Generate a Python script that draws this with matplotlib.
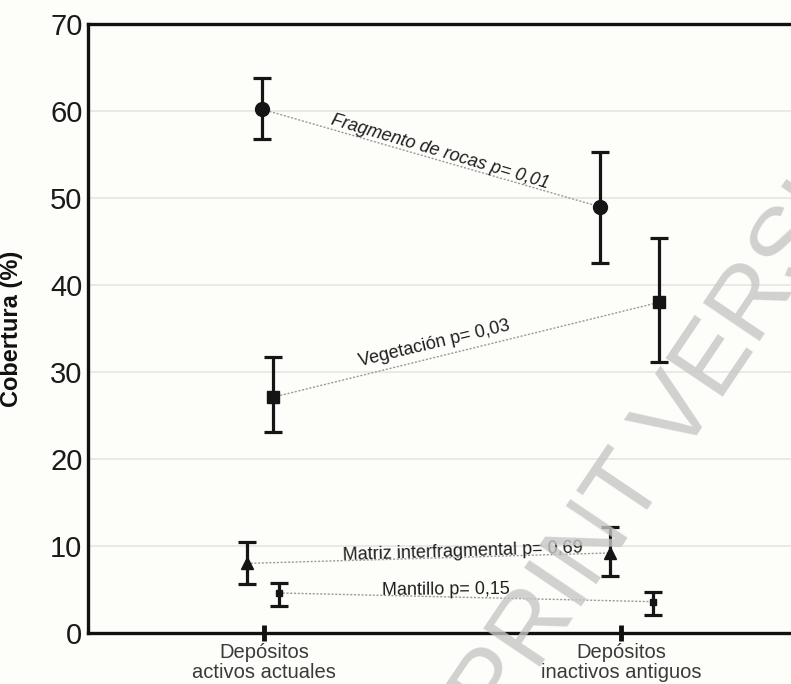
import matplotlib
matplotlib.use("Agg")
import matplotlib.pyplot as plt
import numpy as np

plt.rcParams['font.family'] = ['Liberation Sans', 'DejaVu Sans']

# ---- data ----
categories = ["Depósitos\nactivos actuales", "Depósitos\ninactivos antiguos"]
series = ["Fragmento de rocas", "Vegetación", "Matriz interfragmental", "Mantillo"]
p_values = ["0,01", "0,03", "0,69", "0,15"]
frag_mean = [60.2, 49.0]
frag_low = [56.8, 42.5]
frag_high = [63.8, 55.3]
veg_mean = [27.1, 38.0]
veg_low = [23.1, 31.1]
veg_high = [31.7, 45.4]
matriz_mean = [8.0, 9.2]
matriz_low = [5.6, 6.6]
matriz_high = [10.5, 12.2]
mant_mean = [4.6, 3.6]
mant_low = [3.1, 2.1]
mant_high = [5.8, 4.7]
yticks = [0, 10, 20, 30, 40, 50, 60, 70]

# ---- style ----
W, H = 791, 684
fig = plt.figure(figsize=(W / 100, H / 100), dpi=100)
bg = '#fdfdfa'
fig.patch.set_facecolor(bg)
ax_left, ax_right, ax_top, ax_bottom = 88, 791, 24, 633
ax = fig.add_axes([ax_left / W, 1 - ax_bottom / H, (ax_right - ax_left) / W, (ax_bottom - ax_top) / H])
ax.set_facecolor(bg)

xpos = np.array([1.0, 2.0])
dodge = {"frag": [-0.005, -0.06], "veg": [0.025, 0.106], "matriz": [-0.048, -0.031], "mant": [0.042, 0.09]}
markers = {"frag": ('o', 10), "veg": ('s', 8.5), "matriz": ('^', 9), "mant": ('s', 4)}

data = {
    "frag": (frag_mean, frag_low, frag_high),
    "veg": (veg_mean, veg_low, veg_high),
    "matriz": (matriz_mean, matriz_low, matriz_high),
    "mant": (mant_mean, mant_low, mant_high),
}

for key, (m, lo, hi) in data.items():
    m = np.array(m); lo = np.array(lo); hi = np.array(hi)
    x = xpos + np.array(dodge[key])
    ax.plot(x, m, linestyle=(0, (1.5, 1.2)), color='#9a9a9a', lw=1.0, zorder=2)
    mk, ms = markers[key]
    ax.errorbar(x, m, yerr=[m - lo, hi - m], fmt=mk, ms=ms, color='#151515',
                ecolor='#151515', elinewidth=2.3, capsize=6.5, capthick=2.3, zorder=3)

ax.set_xlim(1 - 176 / 357, 2 + 170 / 357)
ax.set_ylim(0, 70)

# annotations
def ann(x, y, text, rot, italic=False):
    ax.annotate(text, xy=(x, y), xycoords='data', rotation=rot,
                rotation_mode='anchor', ha='center', va='baseline', fontsize=13,
                style='italic' if italic else 'normal', color='#1e1e1e', zorder=4)

def px2data(px, py):
    inv = ax.transData.inverted()
    return inv.transform((px, H - py))

fx, fy = px2data(439, 156)
ann(fx, fy, f"{series[0]} p= {p_values[0]}", -16.5, italic=True)
vx, vy = px2data(435, 348)
ann(vx, vy, f"{series[1]} p= {p_values[1]}", 13.5)
mx, my = px2data(463, 556)
ann(mx, my, f"{series[2]} p= {p_values[2]}", 1.8)
nx, ny = px2data(446, 594)
ann(nx, ny, f"{series[3]} p= {p_values[3]}", 0.5)

# axes styling
ax.set_yticks(yticks)
ax.set_yticklabels([str(v) for v in yticks], fontsize=21, color='#1a1a1a')
ax.tick_params(axis='y', length=0, pad=4)
ax.set_xticks(xpos)
ax.set_xticklabels(categories, fontsize=14.5, color='#3a3a3a', linespacing=1.05)
ax.tick_params(axis='x', direction='inout', length=11, width=3.5, pad=2, color='#111111')
for s in ['left', 'top', 'bottom']:
    ax.spines[s].set_linewidth(2.4)
    ax.spines[s].set_color('#111111')
ax.spines['right'].set_visible(False)
ax.grid(axis='y', color='#e9e9e6', lw=1.4)
ax.set_axisbelow(True)
ax.set_ylabel("Cobertura (%)", fontsize=17, fontweight='bold', color='#111111')
ax.yaxis.set_label_coords((23 - 88) / 703, 0.5)

# watermark
fig.text(637 / W, 1 - 478 / H, "PREPRINT VERSION", rotation=56, rotation_mode='anchor',
         ha='center', va='center', fontsize=72, color='#c6c6c6', alpha=0.8, zorder=10)

fig.savefig("out.png", dpi=100, facecolor=bg)
